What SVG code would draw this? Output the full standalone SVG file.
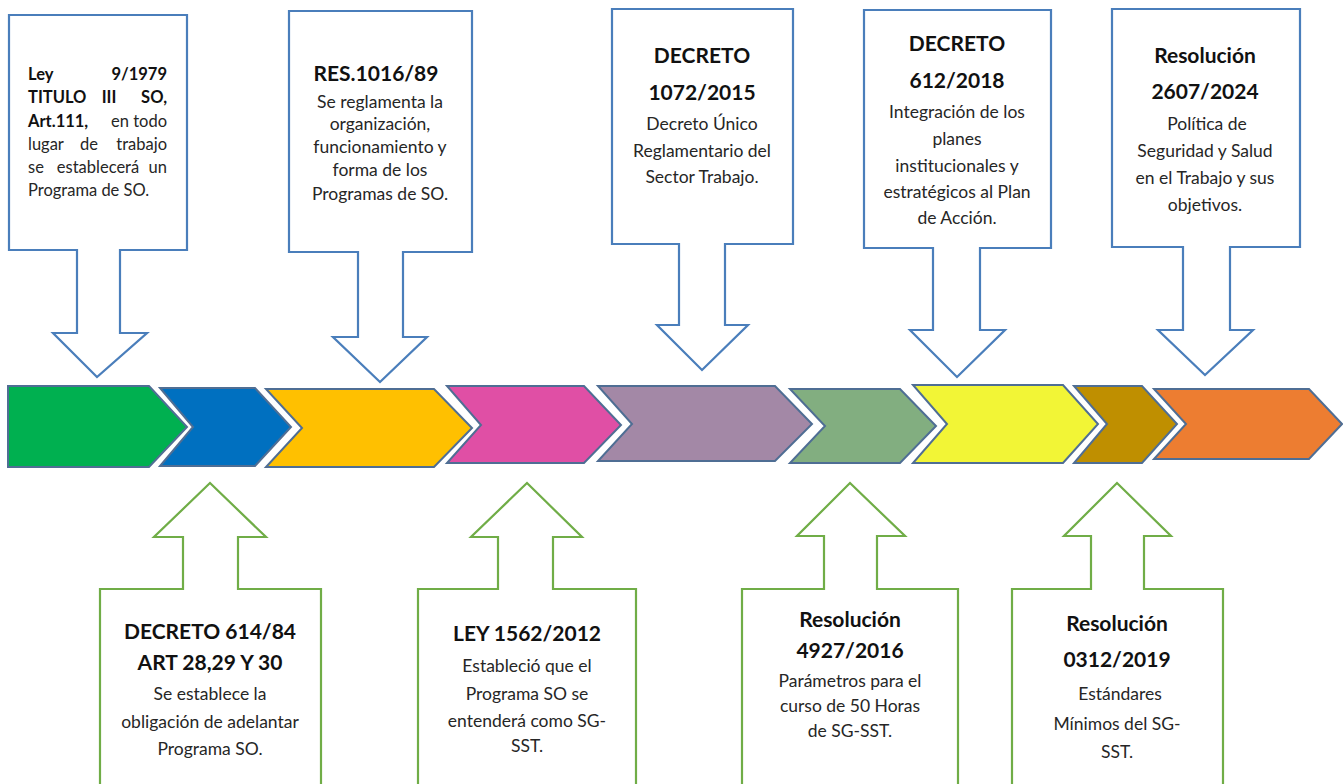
<svg xmlns="http://www.w3.org/2000/svg" width="1343" height="784" viewBox="0 0 1343 784">
<style>
.top{fill:#fff;stroke:#4A7EBB;stroke-width:2.2}
.bot{fill:#fff;stroke:#70AD47;stroke-width:2.2}
.chev{stroke:#4F6E94;stroke-width:2}
text{font-family:Lato,"Liberation Sans",sans-serif;fill:#262626}
.h{font-weight:bold;fill:#111;font-size:21px}
.b{font-size:17.5px}
.s{font-size:16.5px}
.c{text-anchor:middle}
.bb{font-weight:bold;fill:#111}
</style>
<rect width="1343" height="784" fill="#fff"/>
<g id="timeline">
<polygon class="chev" fill="#00B050" points="8,386 149,386 187,427 149,467 8,467"/>
<polygon class="chev" fill="#0070C0" points="160,388 255,388 291,427 255,466 160,466 193,427"/>
<polygon class="chev" fill="#FFC000" points="266,389 434,389 472,428 434,467 266,467 302,428"/>
<polygon class="chev" fill="#E04FA5" points="447,386 584,386 621,425 584,463 447,463 481,425"/>
<polygon class="chev" fill="#A388A6" points="598,386 775,386 812,424 775,461 598,461 632,424"/>
<polygon class="chev" fill="#82AE80" points="790,389 900,389 936,426 900,463 790,463 825,426"/>
<polygon class="chev" fill="#F2F536" points="913,385 1063,385 1098,424 1063,463 913,463 947,424"/>
<polygon class="chev" fill="#BF8F00" points="1074,386 1142,386 1177,424 1142,463 1074,463 1107,424"/>
<polygon class="chev" fill="#ED7D31" points="1154,389 1309,389 1342,424 1309,459 1154,459 1186,424"/>
</g>
<g id="n1">
<path class="top" d="M9,15 H187 V250 H120 V333 H147 L97,377 L53,333 H77 V250 H9 Z"/>
<text class="s" y="80"><tspan x="28" class="bb">Ley</tspan><tspan x="167" text-anchor="end" class="bb">9/1979</tspan></text>
<text class="s bb" y="103"><tspan x="28">TITULO</tspan><tspan x="109" text-anchor="middle">III</tspan><tspan x="167" text-anchor="end">SO,</tspan></text>
<text class="s" y="127"><tspan x="28" class="bb">Art.111,</tspan><tspan x="167" text-anchor="end">en todo</tspan></text>
<text class="s" y="150"><tspan x="28">lugar</tspan><tspan x="89" text-anchor="middle">de</tspan><tspan x="167" text-anchor="end">trabajo</tspan></text>
<text class="s" y="173"><tspan x="28">se</tspan><tspan x="98" text-anchor="middle">establecerá</tspan><tspan x="167" text-anchor="end">un</tspan></text>
<text class="s" y="196" x="28">Programa de SO.</text>
</g>
<g id="n2">
<path class="top" d="M289,11 H472 V252 H403 V337 H427 L380,382 L333,337 H358 V252 H289 Z"/>
<text class="h c" x="376" y="81" font-size="23">RES.1016/89</text>
<text class="b c" x="380" y="108">Se reglamenta la</text>
<text class="b c" x="380" y="130">organización,</text>
<text class="b c" x="380" y="153">funcionamiento y</text>
<text class="b c" x="380" y="176">forma de los</text>
<text class="b c" x="380" y="200">Programas de SO.</text>
</g>
<g id="n3">
<path class="top" d="M612,9 H793 V244 H725 V325 H748 L702,370 L657,325 H679 V244 H612 Z"/>
<text class="h c" x="702" y="63" font-size="24">DECRETO</text>
<text class="h c" x="702" y="100" font-size="24">1072/2015</text>
<text class="b c" x="702" y="130">Decreto Único</text>
<text class="b c" x="702" y="157">Reglamentario del</text>
<text class="b c" x="702" y="183">Sector Trabajo.</text>
</g>
<g id="n4">
<path class="top" d="M864,10 H1051 V248 H980 V330 H1005 L957,377 L910,330 H933 V248 H864 Z"/>
<text class="h c" x="957" y="51" font-size="24">DECRETO</text>
<text class="h c" x="957" y="88" font-size="24">612/2018</text>
<text class="b c" x="957" y="118">Integración de los</text>
<text class="b c" x="957" y="145">planes</text>
<text class="b c" x="957" y="172">institucionales y</text>
<text class="b c" x="957" y="198">estratégicos al Plan</text>
<text class="b c" x="957" y="224">de Acción.</text>
</g>
<g id="n5">
<path class="top" d="M1112,9 H1300 V247 H1230 V330 H1253 L1205,375 L1158,330 H1183 V247 H1112 Z"/>
<text class="h c" x="1205" y="63" font-size="24">Resolución</text>
<text class="h c" x="1205" y="99" font-size="24">2607/2024</text>
<text class="b c" x="1207" y="130">Política de</text>
<text class="b c" x="1205" y="157">Seguridad y Salud</text>
<text class="b c" x="1205" y="184">en el Trabajo y sus</text>
<text class="b c" x="1205" y="211">objetivos.</text>
</g>
<g id="n6">
<path class="bot" d="M100,790 V589 H183 V537 H154 L210,483 L266,537 H238 V589 H321 V790"/>
<text class="h c" x="210" y="639">DECRETO 614/84</text>
<text class="h c" x="210" y="670">ART 28,29 Y 30</text>
<text class="b c" x="210" y="700">Se establece la</text>
<text class="b c" x="210" y="728">obligación de adelantar</text>
<text class="b c" x="210" y="755">Programa SO.</text>
</g>
<g id="n7">
<path class="bot" d="M418,790 V589 H498 V537 H471 L527,483 L582,537 H553 V589 H636 V790"/>
<text class="h c" x="527" y="641" font-size="22.5">LEY 1562/2012</text>
<text class="b c" x="527" y="672">Estableció que el</text>
<text class="b c" x="527" y="700">Programa SO se</text>
<text class="b c" x="527" y="727">entenderá como SG-</text>
<text class="b c" x="527" y="752">SST.</text>
</g>
<g id="n8">
<path class="bot" d="M742,790 V589 H824 V536 H797 L850,483 L905,536 H877 V589 H958 V790"/>
<text class="h c" x="850" y="627" font-size="24">Resolución</text>
<text class="h c" x="850" y="658" font-size="24">4927/2016</text>
<text class="b c" x="850" y="687">Parámetros para el</text>
<text class="b c" x="850" y="712">curso de 50 Horas</text>
<text class="b c" x="850" y="737">de SG-SST.</text>
</g>
<g id="n9">
<path class="bot" d="M1012,790 V589 H1091 V536 H1064 L1117,483 L1171,536 H1144 V589 H1223 V790"/>
<text class="h c" x="1117" y="631" font-size="24">Resolución</text>
<text class="h c" x="1117" y="667" font-size="24">0312/2019</text>
<text class="b c" x="1120" y="700">Estándares</text>
<text class="b c" x="1117" y="730">Mínimos del SG-</text>
<text class="b c" x="1117" y="758">SST.</text>
</g>
</svg>
